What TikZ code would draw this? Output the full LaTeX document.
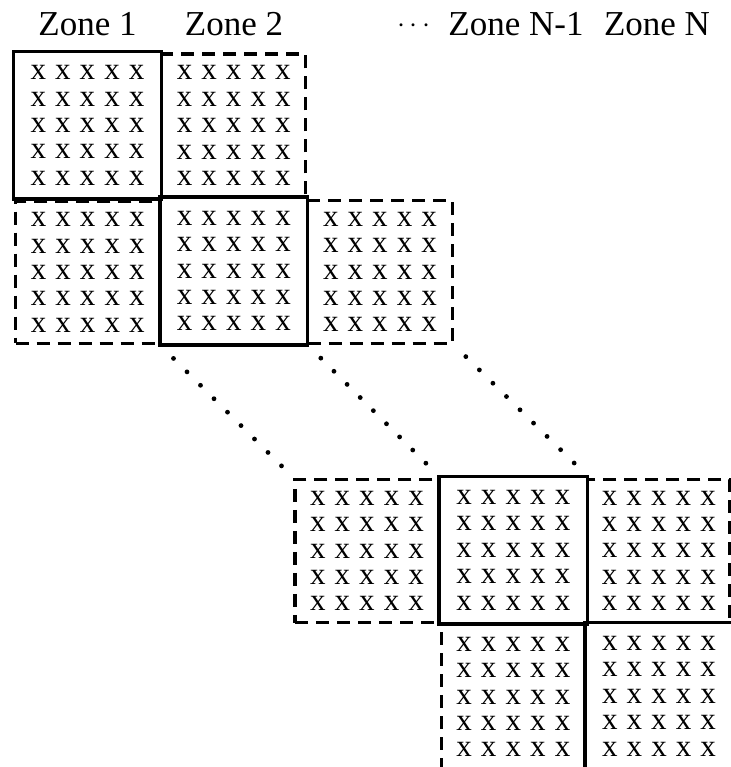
\documentclass[tikz,border=0pt]{standalone}
\usepackage{fontspec}
\setmainfont{Liberation Serif}
\usetikzlibrary{calc}

% one row and one 5x5 grid of markers inside a block
\newcommand{\xrow}{\makebox[12.3pt]{x}\makebox[12.3pt]{x}\makebox[12.3pt]{x}\makebox[12.3pt]{x}\makebox[12.3pt]{x}}
\newcommand{\xgrid}{\xrow\\\xrow\\\xrow\\\xrow\\\xrow}

% block: name, style, left, top, right, bottom (picture units)
\newcommand{\zblock}[6]{%
  \node[#2, minimum width={(#5-#3)*0.5pt}, minimum height={(#6-#4)*0.5pt}]
    (#1) at ({(#3+#5)/2},{(#4+#6)/2}) {\xgrid};}

\begin{document}
\begin{tikzpicture}[x=0.5pt,y=-0.5pt,
  cell/.style={rectangle, inner sep=0pt, outer sep=0pt, align=center,
    font=\fontsize{15.5pt}{13.2pt}\selectfont},
  solidcell/.style={cell, draw, line width=1.7pt},
  dashcell/.style={cell, draw, line width=1.55pt, dash pattern=on 6.5pt off 4pt},
  zonelabel/.style={anchor=base, inner sep=0pt, font=\fontsize{17.5pt}{21pt}\selectfont}]

\useasboundingbox (0,0) rectangle (731,767);

% column headings
\node[zonelabel] (z1)  at (87.5,35) {Zone 1};
\node[zonelabel] (z2)  at (234,35)  {Zone 2};
\node[zonelabel] (zd)  at (414,35)  {\fontsize{14pt}{16pt}\selectfont\raisebox{1.5pt}{$\cdots$}};
\node[zonelabel] (zn1) at (516,35)  {Zone N-1};
\node[zonelabel] (zn)  at (657,35)  {Zone N};

% off-diagonal blocks (dashed)
\zblock{d12}{dashcell}{161.7}{54}{305.7}{197.3}
\zblock{d21}{dashcell}{15.5}{201.5}{160}{343.3}
\zblock{d23}{dashcell}{307.7}{200.7}{452.3}{343.3}
\zblock{dm2}{dashcell}{295}{479.3}{439}{622.7}
\zblock{dmn}{dashcell}{587.7}{479.3}{730}{622.3}
\zblock{dnm}{dashcell}{441.7}{624}{585}{770}

% diagonal blocks (solid)
\zblock{s11}{solidcell}{13.3}{51.7}{161.7}{199}
\zblock{s22}{solidcell}{160}{197}{307.7}{345}
\zblock{smm}{solidcell}{439}{476.3}{587.7}{624}
\zblock{snn}{solidcell}{585}{622.3}{733}{770}

% dotted continuation lines
\foreach \t in {0.1,0.2,0.3,0.4,0.5,0.6,0.7,0.8,0.9} {
  \fill ($(s22.south west)!\t!(dm2.north west)$) circle (1.2pt);
  \fill ($(s22.south east)!\t!(smm.north west)$) circle (1.2pt);
  \fill ($(d23.south east)!\t!(smm.north east)$) circle (1.2pt);
}
\end{tikzpicture}
\end{document}
